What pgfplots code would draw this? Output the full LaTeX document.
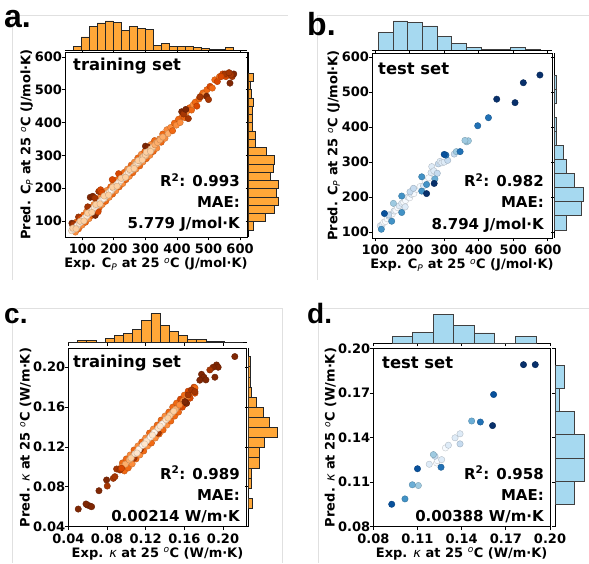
\documentclass[border=0pt]{standalone}
\usepackage{pgfplots}
\pgfplotsset{compat=1.18}
\usepackage{fontspec}
\setmainfont{DejaVu Sans}
\newfontfamily\panelfont{Liberation Sans}
\definecolor{histor}{RGB}{255,167,56}
\definecolor{histbl}{RGB}{166,217,240}
\newcommand{\tlab}{\bfseries\fontsize{13}{15}\selectfont}
\newcommand{\alab}{\bfseries\fontsize{13}{15}\selectfont}
\newcommand{\ital}[1]{{\mdseries\itshape #1}}
\newcommand{\inner}{\bfseries\fontsize{15}{18}\selectfont}
\newcommand{\ttl}{\bfseries\fontsize{16.4}{19}\selectfont}
\pgfplotsset{
  colormap={oranges}{rgb255=(255,245,235) rgb255=(254,230,206) rgb255=(253,208,162) rgb255=(253,174,107) rgb255=(253,141,60) rgb255=(241,105,19) rgb255=(217,72,1) rgb255=(166,54,3) rgb255=(127,39,4)},
  colormap={blues}{rgb255=(247,251,255) rgb255=(222,235,247) rgb255=(198,219,239) rgb255=(158,202,225) rgb255=(107,174,214) rgb255=(66,146,198) rgb255=(33,113,181) rgb255=(8,81,156) rgb255=(8,48,107)},
  scat/.style={scale only axis, anchor=south west, enlargelimits=false,
    axis line style={black, line width=0.8pt}, tick style={black, line width=0.8pt},
    tick align=outside, major tick length=3.5pt, xtick pos=left, ytick pos=left,
    scaled ticks=false, /pgf/number format/assume math mode=true,
    ticklabel style={font=\tlab}, label style={font=\alab},
    yticklabel shift=-4pt,
    xlabel shift=-3pt, ylabel shift=-5pt,
    point meta min=0, point meta max=8},
  sp/.style={scatter, only marks, mark=*, mark size=3.2pt, point meta=explicit},
  tophist/.style={scale only axis, anchor=south west, enlargelimits=false,
    axis x line=bottom, axis y line=none, ymin=0, height=30.5pt,
    axis line style={-, black, line width=0.8pt}, tick style={black, line width=0.8pt},
    tick align=outside, major tick length=3pt, xticklabels={}},
  righthist/.style={scale only axis, anchor=south west, enlargelimits=false,
    axis y line=left, axis x line=none, xmin=0, width=31pt,
    axis line style={-, black, line width=0.8pt}, tick style={black, line width=0.8pt},
    tick align=outside, major tick length=3pt, yticklabels={}},
  orbar/.style={fill=histor, draw=black!85, line width=0.7pt},
  blbar/.style={fill=histbl, draw=black!75, line width=0.7pt},
}
\begin{document}
\begin{tikzpicture}
\path[use as bounding box] (0pt,0pt) rectangle (589pt,563pt);
% frames
\draw[black!12, line width=0.6pt] (12pt,283pt) -- (12pt,548pt) -- (288pt,548pt);
\draw[black!12, line width=0.6pt] (317pt,283pt) -- (317pt,548pt) -- (589pt,548pt);
\draw[black!12, line width=0.6pt] (12pt,0pt) -- (12pt,255pt) -- (282pt,255pt) -- (282pt,0pt);
\draw[black!12, line width=0.6pt] (318pt,0pt) -- (318pt,255pt) -- (589pt,255pt);

% ================= panel a =================
\begin{axis}[scat, at={(65pt,326pt)}, width=182pt, height=185pt,
  xmin=45, xmax=622, ymin=51, ymax=615,
  xtick={100,200,300,400,500,600}, ytick={100,200,300,400,500,600},
  colormap name=oranges,
  xlabel={Exp. C\textsubscript{\ital{P}} at 25 \textsuperscript{\ital{o}}C (J/mol·K)},
  ylabel={Pred. C\textsubscript{\ital{P}} at 25 \textsuperscript{\ital{o}}C (J/mol·K)}]
\addplot[sp] coordinates {
(70,85)[4] (82,97)[5] (92,106)[4] (104,118)[5] (114,130)[4] (126,141)[5] (137,150)[4] (147,162)[5] (158,173)[4] (168,184)[5] (178,193)[4] (190,204)[5] (200,216)[4] (212,226)[5] (222,238)[4] (233,248)[5] (243,258)[4] (255,270)[5] (265,279)[4] (276,292)[5] (287,303)[4] (298,312)[5] (318,333)[4] (329,345)[5]
(78,66)[4] (88,76)[5] (99,87)[4] (110,96)[5] (121,107)[4] (131,117)[5] (142,130)[4] (153,139)[5] (163,150)[4] (174,160)[5] (185,172)[4] (196,182)[5] (206,192)[4] (217,204)[5] (228,214)[4] (238,226)[5] (249,236)[4] (260,247)[5] (270,258)[4] (282,268)[5] (292,280)[4] (303,290)[5] (314,300)[4] (325,312)[5] (336,322)[4]
(75,79)[3] (85,82)[3] (97,101)[3] (107,104)[3] (118,122)[3] (128,125)[3] (139,144)[3] (150,147)[3] (160,165)[3] (171,168)[3] (182,187)[3] (193,190)[3] (204,209)[3] (214,211)[3] (225,230)[3] (236,233)[3] (247,252)[3] (258,255)[3] (268,273)[3] (279,276)[3] (290,295)[3] (301,298)[3] (312,317)[3] (322,320)[3] (334,338)[3] (342,340)[3]
(345,350)[4] (350,340)[5] (355,365)[5] (362,352)[4] (368,378)[4] (372,366)[3] (380,385)[4] (386,375)[5] (392,398)[5] (398,392)[4] (405,410)[5] (410,400)[4] (418,420)[5] (425,415)[5] (430,432)[4] (440,445)[5] (446,438)[5] (452,455)[4] (458,462)[5] (463,450)[6] (470,472)[5] (476,480)[5] (482,490)[5] (488,485)[4] (495,500)[5] (505,510)[6] (512,505)[5] (520,530)[5] (528,525)[6] (535,540)[5] (545,548)[6] (555,540)[6] (562,545)[6] (575,540)[7]
};
\addplot[sp] coordinates {
(67,93)[8] (72,90)[7] (88,112)[7] (95,108)[6] (117,143)[7] (125,172)[8] (133,175)[8] (140,170)[7] (141,117)[8] (150,128)[6] (152,190)[7] (158,195)[6] (162,187)[6] (195,226)[6] (215,244)[6] (300,328)[8] (308,325)[8] (312,318)[7] (415,433)[8] (421,426)[7] (428,440)[8] (436,412)[7] (473,478)[7] (494,480)[8] (500,470)[7] (568,520)[8] (580,548)[8] (571,545)[7] (552,548)[7] (540,540)[6] (565,552)[7]
};
\addplot[sp] coordinates {
(66,70)[1] (72,74)[0] (78,80)[1] (84,86)[0] (90,93)[1] (96,97)[0] (102,104)[1] (108,110)[0] (114,115)[1] (120,122)[0] (126,128)[1] (132,133)[0] (138,141)[1] (144,146)[0] (150,151)[1] (156,158)[0] (162,164)[1] (168,169)[0] (174,176)[1] (180,182)[0] (186,187)[1] (192,194)[0] (198,200)[1] (204,205)[0] (210,212)[1] (216,218)[0] (222,223)[1] (228,230)[0] (234,235)[1] (240,242)[1] (246,248)[1] (252,253)[1] (258,260)[2] (264,265)[1] (270,272)[2] (276,278)[1] (282,283)[2] (288,290)[2] (294,296)[2] (300,301)[2] (306,308)[2] (312,313)[2] (318,320)[2] (324,326)[2] (330,332)[3] (338,339)[3] (346,347)[3] (355,356)[3]
(70,78)[2] (80,76)[2] (93,99)[2] (105,100)[2] (117,124)[2] (130,126)[2] (143,150)[2] (156,152)[2] (169,176)[2] (183,179)[2] (196,203)[2] (210,206)[2] (223,230)[2] (237,233)[2] (250,257)[2] (264,260)[2] (277,284)[2] (290,286)[2] (303,310)[2] (316,312)[2]
};
\end{axis}
\begin{axis}[tophist, at={(65pt,513pt)}, width=182pt, xmin=45, xmax=622, ymax=93.5,
  xtick={100,200,300,400,500,600}]
\addplot[ybar interval, orbar] coordinates {
(70.5,12) (95.9,40) (121.4,72) (146.8,83) (172.3,89) (197.7,84) (223.2,59) (248.6,73) (274.1,65) (299.5,62) (325.0,14) (350.4,20) (375.9,10) (401.3,10) (426.8,10) (452.2,8) (477.7,6) (503.1,3) (528.6,3) (554.0,8) (579.5,0)};
\end{axis}
\begin{axis}[righthist, at={(248.5pt,326pt)}, height=185pt, ymin=51, ymax=615, xmax=91.4,
  ytick={100,200,300,400,500,600}]
\addplot[xbar interval, orbar] coordinates {
(15,72.6) (51,97.7) (75,122.9) (87,148.0) (83,173.2) (87,198.3) (65,223.4) (72,248.6) (75,273.7) (53,298.9) (20,324.0) (20,349.1) (10,374.3) (10,399.4) (12,424.6) (13,449.7) (8,474.8) (5,500.0) (15,525.1) (0,550.3)};
\end{axis}

% ================= panel b =================
\begin{axis}[scat, at={(372pt,325pt)}, width=180pt, height=185pt,
  xmin=91, xmax=612, ymin=83, ymax=612,
  xtick={100,200,300,400,500,600}, ytick={100,200,300,400,500,600},
  colormap name=blues,
  xlabel={Exp. C\textsubscript{\ital{P}} at 25 \textsuperscript{\ital{o}}C (J/mol·K)},
  ylabel={Pred. C\textsubscript{\ital{P}} at 25 \textsuperscript{\ital{o}}C (J/mol·K)}]
\addplot[sp] coordinates {
(115,118)[1] (120,120)[1] (125,128)[0] (130,130)[0] (135,138)[0] (140,145)[1] (145,150)[1] (150,152)[0] (155,160)[1] (160,162)[0] (165,170)[0] (170,175)[1] (177,182)[1] (183,185)[0] (188,190)[0] (187,172)[1] (195,200)[1] (200,198)[0] (205,208)[1] (212,210)[0] (220,222)[0] (230,230)[0] (240,232)[1] (245,245)[0] (255,255)[0] (262,270)[1] (264,287)[1] (270,275)[1] (280,268)[2] (283,295)[2] (288,302)[1] (293,298)[1] (300,300)[1] (310,305)[2] (329,323)[2] (139,149)[2] (201,215)[2] (211,225)[2] (153,182)[3]
(335,330)[3] (365,358)[3] (370,361)[3] (360,362)[3] (273,252)[4] (118,108)[5] (148,131)[5] (177,203)[5] (177,156)[5] (235,217)[5] (235,258)[5] (249,236)[5] (346,330)[6] (305,320)[6] (428,427)[6] (397,404)[6]
(127,153)[7] (300,322)[7] (271,239)[8] (249,210)[8] (452,480)[8] (505,470)[8] (529,527)[8] (577,549)[8]
};
\end{axis}
\begin{axis}[tophist, at={(372pt,513pt)}, width=180pt, xmin=91, xmax=612, ymax=92.4,
  xtick={100,200,300,400,500,600}]
\addplot[ybar interval, blbar] coordinates {
(109.6,52) (152.1,88) (194.6,84) (237.1,73) (279.6,40) (322.1,20) (364.6,8) (407.1,3) (449.6,3) (492.1,8) (534.6,3) (577.1,0)};
\end{axis}
\begin{axis}[righthist, at={(554pt,325pt)}, height=185pt, ymin=83, ymax=612, xmax=91.4,
  ytick={100,200,300,400,500,600}]
\addplot[xbar interval, blbar] coordinates {
(37,105.7) (82,146.7) (87,186.7) (60,227.6) (37,267.6) (27,307.6) (7,346.7) (7,386.7) (0,426.7) (7,467.6) (7,507.6) (0,547.6)};
\end{axis}

% ================= panel c =================
\begin{axis}[scat, at={(68.3pt,36.3pt)}, width=178.4pt, height=178.4pt,
  xmin=0.04, xmax=0.2245, ymin=0.04, ymax=0.219,
  xtick={0.04,0.08,0.12,0.16,0.20}, ytick={0.04,0.08,0.12,0.16,0.20},
  /pgf/number format/.cd, fixed, fixed zerofill, precision=2, /pgfplots/.cd,
  colormap name=oranges,
  xlabel={Exp. \ital{κ} at 25 \textsuperscript{\ital{o}}C (W/m·K)},
  ylabel={Pred. \ital{κ} at 25 \textsuperscript{\ital{o}}C (W/m·K)}]
\addplot[sp] coordinates {
(0.096,0.104)[5] (0.100,0.108)[5] (0.104,0.112)[4] (0.108,0.117)[5] (0.112,0.121)[4] (0.116,0.125)[5] (0.120,0.129)[4] (0.124,0.134)[5] (0.128,0.138)[4] (0.132,0.142)[5] (0.136,0.147)[5] (0.140,0.151)[4] (0.144,0.155)[5] (0.148,0.160)[5] (0.152,0.164)[5] (0.156,0.168)[6] (0.160,0.172)[5] (0.164,0.176)[6] (0.170,0.180)[6]
(0.098,0.096)[5] (0.102,0.099)[5] (0.106,0.103)[4] (0.110,0.108)[5] (0.114,0.112)[4] (0.118,0.116)[5] (0.122,0.121)[4] (0.126,0.124)[5] (0.130,0.129)[4] (0.134,0.133)[5] (0.138,0.137)[5] (0.142,0.142)[4] (0.146,0.146)[5] (0.150,0.151)[5] (0.154,0.155)[5] (0.158,0.160)[6] (0.162,0.164)[6] (0.166,0.169)[6] (0.171,0.174)[6]
(0.095,0.100)[4] (0.099,0.1027)[3] (0.103,0.107)[3] (0.107,0.111)[3] (0.111,0.1153)[3] (0.115,0.1196)[3] (0.119,0.1238)[3] (0.123,0.1281)[3] (0.127,0.1324)[3] (0.131,0.1366)[3] (0.135,0.1409)[3] (0.139,0.1451)[3] (0.143,0.1494)[3] (0.147,0.1537)[3] (0.151,0.1579)[3] (0.155,0.1622)[4] (0.159,0.1664)[4] (0.163,0.1707)[4] (0.167,0.175)[5] (0.171,0.1792)[5]
};
\addplot[sp] coordinates {
(0.2122,0.2107)[8] (0.1933,0.2023)[8] (0.195,0.200)[8] (0.1898,0.200)[8] (0.1864,0.1973)[7] (0.1778,0.1929)[8] (0.1802,0.190)[8] (0.1823,0.1873)[8] (0.1916,0.190)[8] (0.176,0.187)[8] (0.1675,0.1772)[7] (0.1709,0.1755)[7] (0.164,0.1722)[7] (0.1623,0.1638)[8] (0.1606,0.1655)[8]
(0.0503,0.0577)[8] (0.0596,0.0618)[8] (0.0624,0.0607)[8] (0.0641,0.0601)[8] (0.0583,0.0628)[8] (0.0717,0.0761)[8] (0.0796,0.0869)[8] (0.0803,0.0808)[7] (0.0865,0.0885)[7] (0.0882,0.0902)[7] (0.090,0.0979)[7] (0.0934,0.0969)[7] (0.0951,0.0986)[6] (0.1145,0.1175)[7] (0.133,0.134)[7] (0.120,0.124)[6] (0.108,0.109)[7]
};
\addplot[sp] coordinates {
(0.105,0.1089)[2] (0.109,0.1132)[1] (0.113,0.1175)[0] (0.117,0.1217)[0] (0.121,0.126)[1] (0.125,0.130)[0] (0.129,0.1345)[0] (0.133,0.1388)[1] (0.137,0.143)[0] (0.141,0.1473)[1] (0.145,0.1516)[2] (0.149,0.1558)[2] (0.111,0.114)[1] (0.119,0.123)[1] (0.127,0.132)[1] (0.135,0.141)[1] (0.143,0.149)[2]
};
\end{axis}
\begin{axis}[tophist, at={(68.3pt,220.3pt)}, width=178.4pt, xmin=0.04, xmax=0.2245, ymax=90.3,
  xtick={0.04,0.08,0.12,0.16,0.20}]
\addplot[ybar interval, orbar] coordinates {
(0.0400,1) (0.0495,6) (0.0590,6) (0.0685,1) (0.0780,13) (0.0874,21) (0.0969,28) (0.1064,40) (0.1159,67) (0.1254,86) (0.1349,50) (0.1444,34) (0.1539,21) (0.1634,9) (0.1729,9) (0.1824,5) (0.1918,5) (0.2013,1) (0.2108,1) (0.2203,0)};
\end{axis}
\begin{axis}[righthist, at={(248.3pt,36.3pt)}, height=178.4pt, ymin=0.04, ymax=0.219, xmax=91.4,
  ytick={0.04,0.08,0.12,0.16,0.20}]
\addplot[xbar interval, orbar] coordinates {
(12,0.0585) (0,0.0686) (10,0.0788) (10,0.0889) (33,0.0990) (33,0.1092) (47,0.1193) (87,0.1295) (63,0.1396) (43,0.1497) (25,0.1599) (10,0.1700) (7,0.1801) (7,0.1903) (7,0.2004) (0,0.2106)};
\end{axis}

% ================= panel d =================
\begin{axis}[scat, at={(373.3pt,36.3pt)}, width=176.7pt, height=178.4pt,
  xmin=0.08, xmax=0.20, ymin=0.08, ymax=0.20,
  xtick={0.08,0.11,0.14,0.17,0.20}, ytick={0.08,0.11,0.14,0.17,0.20},
  /pgf/number format/.cd, fixed, fixed zerofill, precision=2, /pgfplots/.cd,
  colormap name=blues,
  xlabel={Exp. \ital{κ} at 25 \textsuperscript{\ital{o}}C (W/m·K)},
  ylabel={Pred. \ital{κ} at 25 \textsuperscript{\ital{o}}C (W/m·K)}]
\addplot[sp] coordinates {
(0.123,0.1229)[0] (0.1235,0.1245)[0] (0.129,0.133)[0] (0.1264,0.1251)[1] (0.131,0.1348)[1] (0.1355,0.1398)[1] (0.1389,0.1425)[1] (0.118,0.122)[1] (0.1389,0.1357)[2] (0.1219,0.1274)[2] (0.1208,0.1285)[3] (0.1106,0.1077)[3] (0.1468,0.1511)[4] (0.1065,0.1082)[4] (0.1015,0.0987)[5] (0.1527,0.1504)[6] (0.126,0.120)[6] (0.110,0.119)[7] (0.0925,0.0951)[7] (0.1617,0.1689)[7] (0.161,0.148)[8] (0.182,0.189)[8] (0.190,0.189)[8]
};
\end{axis}
\begin{axis}[tophist, at={(373.3pt,219.7pt)}, width=176.7pt, xmin=0.08, xmax=0.20, ymax=91.4,
  xtick={0.08,0.11,0.14,0.17,0.20}]
\addplot[ybar interval, blbar] coordinates {
(0.0927,20) (0.1067,32) (0.1206,87) (0.1346,53) (0.1485,31) (0.1625,0) (0.1764,20) (0.1904,0)};
\end{axis}
\begin{axis}[righthist, at={(555pt,36.3pt)}, height=178.4pt, ymin=0.08, ymax=0.20, xmax=89.3,
  ytick={0.08,0.11,0.14,0.17,0.20}]
\addplot[xbar interval, blbar] coordinates {
(57,0.0952) (85,0.1108) (85,0.1263) (57,0.1419) (12,0.1574) (28,0.1730) (0,0.1886)};
\end{axis}

% ================= texts =================
\node[anchor=base west, inner sep=0pt, font=\ttl] at (73pt,492pt) {training set};
\node[anchor=base east, inner sep=0pt, font=\inner] at (240pt,376pt) {R\textsuperscript{2}: 0.993};
\node[anchor=base east, inner sep=0pt, font=\inner] at (240pt,355.5pt) {MAE:};
\node[anchor=base east, inner sep=0pt, font=\inner] at (240pt,334.5pt) {5.779 J/mol·K};

\node[anchor=base west, inner sep=0pt, font=\ttl] at (378pt,488pt) {test set};
\node[anchor=base east, inner sep=0pt, font=\inner] at (544pt,376pt) {R\textsuperscript{2}: 0.982};
\node[anchor=base east, inner sep=0pt, font=\inner] at (544pt,355.5pt) {MAE:};
\node[anchor=base east, inner sep=0pt, font=\inner] at (544pt,333.5pt) {8.794 J/mol·K};

\node[anchor=base west, inner sep=0pt, font=\ttl] at (73pt,196pt) {training set};
\node[anchor=base east, inner sep=0pt, font=\inner] at (240pt,84pt) {R\textsuperscript{2}: 0.989};
\node[anchor=base east, inner sep=0pt, font=\inner] at (240pt,63pt) {MAE:};
\node[anchor=base east, inner sep=0pt, font=\inner] at (240pt,41.3pt) {0.00214 W/m·K};

\node[anchor=base west, inner sep=0pt, font=\ttl] at (382pt,195pt) {test set};
\node[anchor=base east, inner sep=0pt, font=\inner] at (544pt,84pt) {R\textsuperscript{2}: 0.958};
\node[anchor=base east, inner sep=0pt, font=\inner] at (544pt,63pt) {MAE:};
\node[anchor=base east, inner sep=0pt, font=\inner] at (544pt,42pt) {0.00388 W/m·K};

\node[anchor=base west, inner sep=0pt, font=\panelfont\bfseries\fontsize{32}{32}\selectfont] at (4pt,535pt) {a.};
\node[anchor=base west, inner sep=0pt, font=\panelfont\bfseries\fontsize{32}{32}\selectfont] at (307pt,527pt) {b.};
\node[anchor=base west, inner sep=0pt, font=\panelfont\bfseries\fontsize{28}{28}\selectfont] at (4pt,240pt) {c.};
\node[anchor=base west, inner sep=0pt, font=\panelfont\bfseries\fontsize{28}{28}\selectfont] at (307pt,240pt) {d.};
\end{tikzpicture}
\end{document}
